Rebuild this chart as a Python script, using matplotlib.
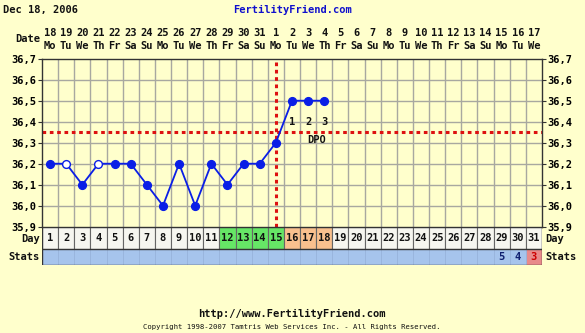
import matplotlib
matplotlib.use("Agg")
import matplotlib.pyplot as plt
from matplotlib.patches import Rectangle

# ---- data ----
cycle_days = list(range(1, 32))
dates = ["18", "19", "20", "21", "22", "23", "24", "25", "26", "27", "28", "29", "30", "31",
         "1", "2", "3", "4", "5", "6", "7", "8", "9", "10", "11", "12", "13", "14", "15", "16", "17"]
weekdays = ["Mo", "Tu", "We", "Th", "Fr", "Sa", "Su", "Mo", "Tu", "We", "Th", "Fr", "Sa", "Su",
            "Mo", "Tu", "We", "Th", "Fr", "Sa", "Su", "Mo", "Tu", "We", "Th", "Fr", "Sa", "Su",
            "Mo", "Tu", "We"]
temp_days = list(range(1, 19))
temps = [36.2, 36.2, 36.1, 36.2, 36.2, 36.2, 36.1, 36.0, 36.2, 36.0, 36.2, 36.1, 36.2, 36.2,
         36.3, 36.5, 36.5, 36.5]
open_days = [2, 4]
coverline = 36.35
ovulation_day = 15
fertile_days = [12, 13, 14, 15]
luteal_days = [16, 17, 18]
dpo_days = [16, 17, 18]
dpo_labels = ["1", "2", "3"]
stats_days = [29, 30, 31]
stats_vals = ["5", "4", "3"]
y_ticks = [35.9, 36.0, 36.1, 36.2, 36.3, 36.4, 36.5, 36.6, 36.7]

W, H = 585, 333
BG = "#ffffcc"
GRID = "#a8a8a0"
BLUE = "#0a1ee6"
RED = "#dd1111"
FONT = "DejaVu Sans Mono"

fig = plt.figure(figsize=(W / 100, H / 100), dpi=100, facecolor=BG)

def px_axes(x0, y0, x1, y1):
    return fig.add_axes([x0 / W, 1 - y1 / H, (x1 - x0) / W, (y1 - y0) / H])

L, R, T, B = 42, 542, 58.7, 226.7
ax = px_axes(L, T, R, B)
ax.set_facecolor(BG)
ax.set_xlim(0.5, 31.5)
ax.set_ylim(35.9, 36.7)
for x in range(1, 31):
    ax.axvline(x + 0.5, color=GRID, lw=1, zorder=1)
for y in y_ticks[1:-1]:
    ax.axhline(y, color=GRID, lw=1, zorder=1)
ax.set_xticks([])
ax.set_yticks(y_ticks)
ax.set_yticklabels([f"{v:.1f}".replace(".", ",") for v in y_ticks], fontsize=7.5,
                   fontweight="bold", family=FONT)
ax.tick_params(axis="y", length=3, pad=1, labelright=True, right=True, color="#333333")
for s in ax.spines.values():
    s.set_color("#333333")
    s.set_linewidth(1)

# coverline and ovulation line
ax.axhline(coverline, color=RED, lw=2.2, ls=(0, (1.2, 1.2)), zorder=2)
ax.axvline(ovulation_day, color=RED, lw=2.2, ls=(0, (1.2, 1.2)), zorder=2)

ax.plot(temp_days, temps, color=BLUE, lw=1.3, zorder=3)
filled_x = [d for d in temp_days if d not in open_days]
filled_y = [t for d, t in zip(temp_days, temps) if d not in open_days]
open_y = [t for d, t in zip(temp_days, temps) if d in open_days]
ax.plot(filled_x, filled_y, "o", color=BLUE, ms=5.6, zorder=4)
ax.plot(open_days, open_y, "o", mfc="white", mec=BLUE, mew=1, ms=5.6, zorder=4)

for d, lab in zip(dpo_days, dpo_labels):
    ax.text(d, 36.40, lab, ha="center", va="center", fontsize=7.5, fontweight="bold",
            family=FONT, color="#111111", zorder=5)
ax.text(17.5, 36.315, "DPO", ha="center", va="center", fontsize=7.5, fontweight="bold",
        family=FONT, color="#111111", zorder=5)

# Day row
axd = px_axes(L, B, R, 249.3)
axd.set_xlim(0.5, 31.5)
axd.set_ylim(0, 1)
axd.axis("off")
for d in cycle_days:
    c = "#f6f6f0"
    if d in fertile_days:
        c = "#66e666"
    elif d in luteal_days:
        c = "#f9c08e"
    axd.add_patch(Rectangle((d - 0.5, 0), 1, 1, facecolor=c, edgecolor="#666666", lw=0.8))
    axd.text(d, 0.5, str(d), ha="center", va="center", fontsize=7.5, fontweight="bold",
             family=FONT, color="#111111")
axd.add_patch(Rectangle((0.5, 0), 31, 1, fill=False, edgecolor="#333333", lw=1))

# Stats row
axs = px_axes(L, 249.3, R, 264.5)
axs.set_xlim(0.5, 31.5)
axs.set_ylim(0, 1)
axs.axis("off")
for d in cycle_days:
    c = "#a6c4ec"
    axs.add_patch(Rectangle((d - 0.5, 0), 1, 1, facecolor=c, edgecolor="#98b4dc", lw=0.6))
for d, v in zip(stats_days, stats_vals):
    if v == "3":
        axs.add_patch(Rectangle((d - 0.5, 0), 1, 1, facecolor="#e88a8a", edgecolor="#98b4dc", lw=0.6))
        col = "#cc0000"
    else:
        col = "#102070"
    axs.text(d, 0.5, v, ha="center", va="center", fontsize=7.5, fontweight="bold",
             family=FONT, color=col)
axs.add_patch(Rectangle((0.5, 0), 31, 1, fill=False, edgecolor="#333333", lw=1))

# header texts
def ftext(x, y, s, **kw):
    kw.setdefault("fontsize", 7.5)
    kw.setdefault("fontweight", "bold")
    kw.setdefault("family", FONT)
    kw.setdefault("color", "#111111")
    fig.text(x / W, 1 - y / H, s, **kw)

ftext(3, 10, "Dec 18, 2006", ha="left", va="center", fontsize=7.5)
ftext(292, 10, "FertilityFriend.com", ha="center", va="center", fontsize=7.5, color="#1010cc")
ftext(40, 39, "Date", ha="right", va="center")

def xpix(d):
    return L + (d - 0.5) * (R - L) / 31

for d, dt, wd in zip(cycle_days, dates, weekdays):
    ftext(xpix(d), 33, dt, ha="center", va="center")
    ftext(xpix(d), 46, wd, ha="center", va="center")

ftext(40, 239, "Day", ha="right", va="center")
ftext(40, 257, "Stats", ha="right", va="center")
ftext(545, 239, "Day", ha="left", va="center")
ftext(545, 257, "Stats", ha="left", va="center")

ftext(292, 314, "http://www.FertilityFriend.com", ha="center", va="center", fontsize=7.5)
ftext(292, 327, "Copyright 1998-2007 Tamtris Web Services Inc. - All Rights Reserved.",
      ha="center", va="center", fontsize=5.2, fontweight="normal")

fig.savefig("out.png", dpi=100, facecolor=BG)
